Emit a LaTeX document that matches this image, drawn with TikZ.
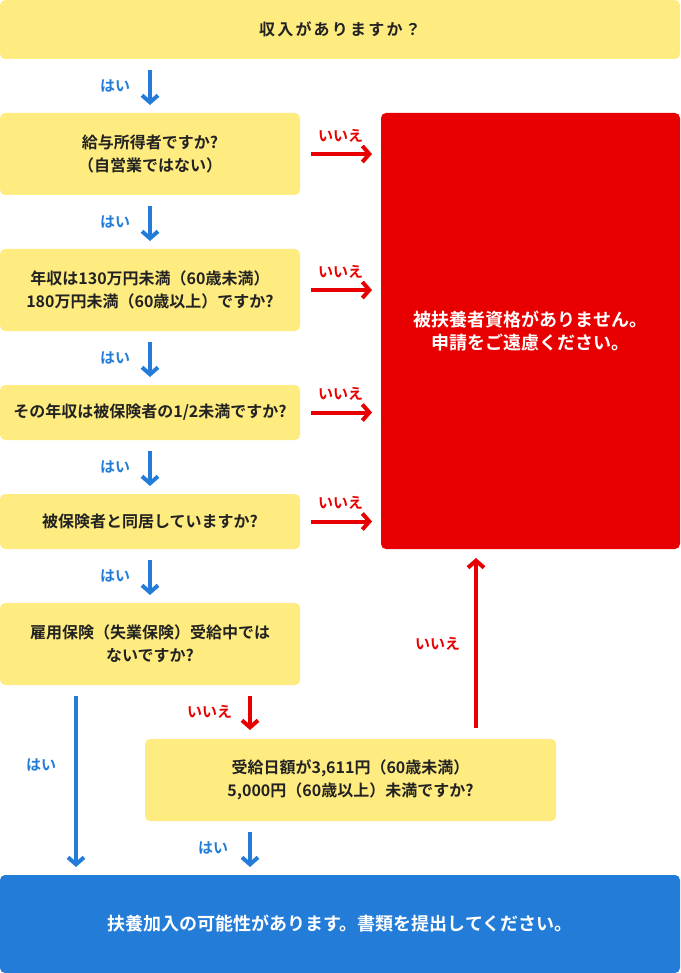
\documentclass[tikz,border=0pt]{standalone}
\usepackage{fontspec}
\setmainfont{Noto Sans CJK JP}[BoldFont={Noto Sans CJK JP Bold}]
\usetikzlibrary{arrows.meta}
\definecolor{qyellow}{HTML}{FFEC80}
\definecolor{ngred}{HTML}{E80000}
\definecolor{okblue}{HTML}{237DD8}
\definecolor{qtext}{HTML}{222222}

\begin{document}
\begin{tikzpicture}[x=1pt,y=-1pt]
\tikzstyle{every node}=[font=\bfseries\fontsize{16}{23}\selectfont, outer sep=0pt]
\tikzstyle{qbox}=[fill=qyellow, rounded corners=5pt, anchor=north west, align=center, text=qtext]
\tikzstyle{endbox}=[rounded corners=5pt, anchor=north west, align=center, text=white, font=\bfseries\fontsize{18}{23}\selectfont]
\tikzstyle{yesarrow}=[draw=okblue, line width=4pt, -{Straight Barb[length=7pt,width=16pt]}, shorten <=11pt, shorten >=8pt]
\tikzstyle{noarrow}=[draw=ngred, line width=4pt, -{Straight Barb[length=7pt,width=16pt]}, shorten <=11pt, shorten >=9pt]
\tikzstyle{yeslabel}=[text=okblue, inner sep=0pt, font=\bfseries\fontsize{15}{18}\selectfont]
\tikzstyle{nolabel}=[text=ngred, inner sep=0pt, font=\bfseries\fontsize{15}{18}\selectfont]
\useasboundingbox (0,0) rectangle (680,973);

\node[qbox, minimum width=680pt, minimum height=59pt] (q0) at (0,0) {\addfontfeatures{LetterSpace=14}収入がありますか？};
\node[qbox, minimum width=300pt, minimum height=82pt] (q1) at (0,113) {給与所得者ですか?\\（自営業ではない）};
\node[qbox, minimum width=300pt, minimum height=82pt] (q2) at (0,249) {年収は130万円未満（60歳未満）\\180万円未満（60歳以上）ですか?};
\node[qbox, minimum width=300pt, minimum height=55pt] (q3) at (0,385) {その年収は被保険者の1/2未満ですか?};
\node[qbox, minimum width=300pt, minimum height=55pt] (q4) at (0,494) {被保険者と同居していますか?};
\node[qbox, minimum width=300pt, minimum height=82pt] (q5) at (0,603) {雇用保険（失業保険）受給中では\\ないですか?};
\node[qbox, minimum width=411pt, minimum height=82pt] (q6) at (145,739) {受給日額が3,611円（60歳未満）\\5,000円（60歳以上）未満ですか?};
\node[endbox, fill=ngred, minimum width=299pt, minimum height=436pt] (ng) at (381,113) {被扶養者資格がありません。\\申請をご遠慮ください。};
\node[endbox, fill=okblue, minimum width=680pt, minimum height=98pt] (ok) at (0,875) {扶養加入の可能性があります。書類を提出してください。};

\coordinate (colA) at (76,0);
\coordinate (colB) at (250,0);
\coordinate (colC) at (476,0);

\draw[yesarrow] (q0.south -| q1.north) -- (q1.north) node[yeslabel, left=20pt, midway] {はい};
\draw[yesarrow] (q1.south) -- (q2.north) node[yeslabel, left=20pt, midway] {はい};
\draw[yesarrow] (q2.south) -- (q3.north) node[yeslabel, left=20pt, midway] {はい};
\draw[yesarrow] (q3.south) -- (q4.north) node[yeslabel, left=20pt, midway] {はい};
\draw[yesarrow] (q4.south) -- (q5.north) node[yeslabel, left=20pt, midway] {はい};

\draw[noarrow] (q1.east) -- (q1.east -| ng.west) node[nolabel, above=12pt, midway] {いいえ};
\draw[noarrow] (q2.east) -- (q2.east -| ng.west) node[nolabel, above=12pt, midway] {いいえ};
\draw[noarrow] (q3.east) -- (q3.east -| ng.west) node[nolabel, above=12pt, midway] {いいえ};
\draw[noarrow] (q4.east) -- (q4.east -| ng.west) node[nolabel, above=12pt, midway] {いいえ};

\draw[yesarrow] (q5.south -| colA) -- (ok.north -| colA) node[yeslabel, left=20pt, pos=0.42] {はい};
\draw[noarrow] (q5.south -| colB) -- (q6.north -| colB) node[nolabel, left=18pt, midway] {いいえ};
\draw[noarrow] (q6.north -| colC) -- (ng.south -| colC) node[nolabel, left=16pt, midway] {いいえ};
\draw[yesarrow] (q6.south -| colB) -- (ok.north -| colB) node[yeslabel, left=22pt, midway] {はい};
\end{tikzpicture}
\end{document}
